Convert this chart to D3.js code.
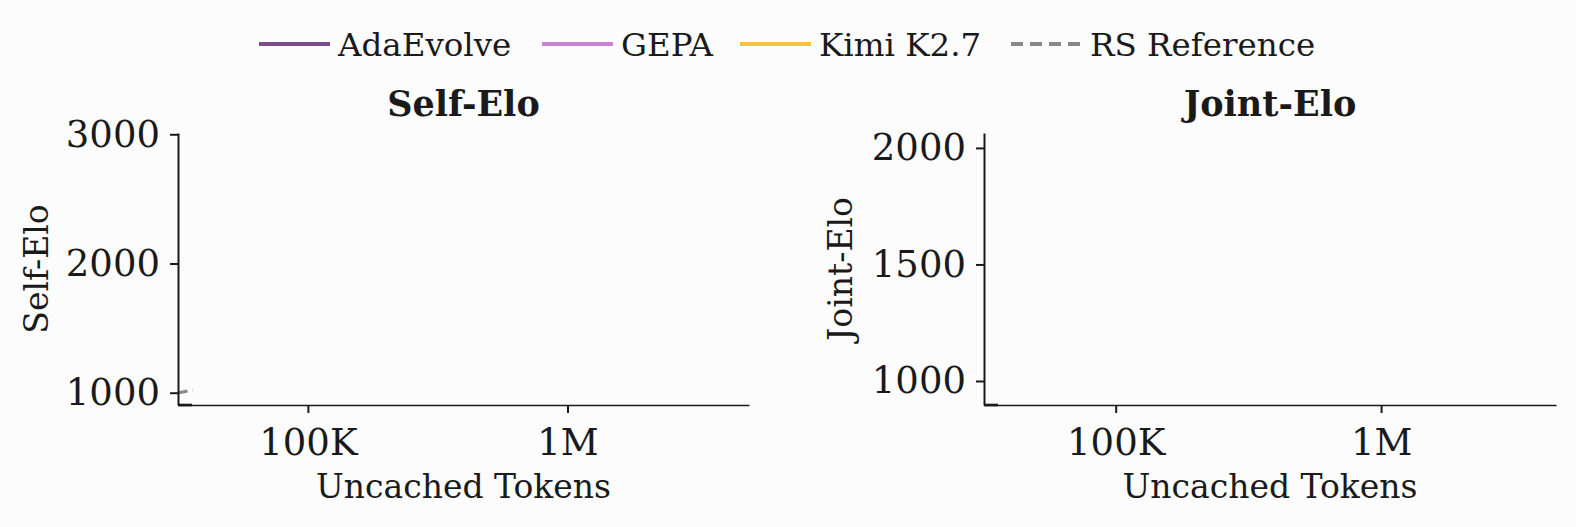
<!DOCTYPE html>
<html lang="en">
<head>
<meta charset="UTF-8">
<script src="https://d3js.org/d3.v7.min.js"></script>
<style>
  html, body { margin: 0; padding: 0; background: #fcfcfc; }
  svg { display: block; font-family: "DejaVu Serif", serif; }
</style>
<title>Self-Elo / Joint-Elo vs Uncached Tokens</title>
</head>
<body>
<div id="chart"></div>
<script>
    const width = 1576;
    const height = 527;

    // series names + colours (legend order)
    const seriesNames = ["AdaEvolve", "GEPA", "Kimi K2.7", "RS Reference"];
    const seriesColors = ["#7d4b8c", "#cc82d6", "#f4c23c", "#888888"];

    // x values: uncached tokens, y values: elo
    // only the tiny RS Reference start is inside the visible window
    const selfTokens = {
        "AdaEvolve": [],
        "GEPA": [],
        "Kimi K2.7": [],
        "RS Reference": [31800, 36000]
    };
    const selfElo = {
        "AdaEvolve": [],
        "GEPA": [],
        "Kimi K2.7": [],
        "RS Reference": [1000, 1022]
    };
    const jointTokens = { "AdaEvolve": [], "GEPA": [], "Kimi K2.7": [], "RS Reference": [] };
    const jointElo = { "AdaEvolve": [], "GEPA": [], "Kimi K2.7": [], "RS Reference": [] };

    const xTickValues = [1e5, 1e6];
    const xTickLabels = ["100K", "1M"];
    const selfYTicks = [1000, 2000, 3000];
    const jointYTicks = [1000, 1500, 2000];

    const svg = d3.select("#chart").append("svg")
        .attr("width", width)
        .attr("height", height);

    svg.append("rect").attr("width", width).attr("height", height).attr("fill", "#fcfcfc");

    const panels = [
        { title: "Self-Elo", xs: selfTokens, ys: selfElo, yTicks: selfYTicks,
          left: 178, right: 749, xDomain: [31600, 5.0e6], yDomain: [905, 3010], ylabX: 48 },
        { title: "Joint-Elo", xs: jointTokens, ys: jointElo, yTicks: jointYTicks,
          left: 984, right: 1556, xDomain: [31900, 4.56e6], yDomain: [897, 2064], ylabX: 852 }
    ];
    const plotTop = 133, plotBottom = 405;

    panels.forEach(p => {
        const x = d3.scaleLog().domain(p.xDomain).range([p.left, p.right]);
        const y = d3.scaleLinear().domain(p.yDomain).range([plotBottom, plotTop]);
        const g = svg.append("g");

        // clip so lines stay inside the axes
        const clipId = "clip-" + p.title;
        svg.append("clipPath").attr("id", clipId)
            .append("rect").attr("x", p.left).attr("y", plotTop)
            .attr("width", p.right - p.left).attr("height", plotBottom - plotTop);

        // lines
        const line = d3.line().x(d => x(d[0])).y(d => y(d[1]));
        seriesNames.forEach((name, i) => {
            const pts = p.xs[name].map((v, j) => [v, p.ys[name][j]]);
            if (!pts.length) return;
            g.append("path")
                .attr("clip-path", `url(#${clipId})`)
                .attr("d", line(pts))
                .attr("fill", "none")
                .attr("stroke", seriesColors[i])
                .attr("stroke-width", 3)
                .attr("stroke-dasharray", name === "RS Reference" ? "9,5" : null);
        });

        // y axis
        const yAxis = g.append("g")
            .attr("transform", `translate(${p.left},0)`)
            .call(d3.axisLeft(y).tickValues(p.yTicks).tickFormat(d3.format("d"))
                .tickSize(8).tickPadding(10).tickSizeOuter(0));
        yAxis.select(".domain").attr("stroke", "#1a1a1a").attr("stroke-width", 2);
        yAxis.selectAll(".tick line").attr("stroke", "#1a1a1a").attr("stroke-width", 2);
        yAxis.selectAll("text").attr("font-family", "DejaVu Serif").attr("font-size", 37).attr("fill", "#1a1a1a");

        // x axis
        const xAxis = g.append("g")
            .attr("transform", `translate(0,${plotBottom})`)
            .call(d3.axisBottom(x).tickValues(xTickValues)
                .tickFormat((d, i) => xTickLabels[i]).tickSize(8).tickPadding(16).tickSizeOuter(0));
        xAxis.select(".domain").attr("stroke", "#1a1a1a").attr("stroke-width", 1.6);
        xAxis.selectAll(".tick line").attr("stroke", "#1a1a1a").attr("stroke-width", 2);
        xAxis.selectAll("text").attr("font-family", "DejaVu Serif").attr("font-size", 37).attr("fill", "#1a1a1a");

        // little thick corner stub
        g.append("line")
            .attr("x1", p.left).attr("x2", p.left + 14)
            .attr("y1", plotBottom).attr("y2", plotBottom)
            .attr("stroke", "#1a1a1a").attr("stroke-width", 2.6);

        // title
        g.append("text")
            .attr("x", (p.left + p.right) / 2).attr("y", 116)
            .attr("text-anchor", "middle")
            .attr("font-size", 35).attr("font-weight", "bold").attr("fill", "#1a1a1a")
            .text(p.title);

        // axis labels
        g.append("text")
            .attr("x", (p.left + p.right) / 2).attr("y", 498)
            .attr("text-anchor", "middle")
            .attr("font-size", 33).attr("fill", "#1a1a1a")
            .text("Uncached Tokens");
        g.append("text")
            .attr("transform", `translate(${p.ylabX},${(plotTop + plotBottom) / 2}) rotate(-90)`)
            .attr("text-anchor", "middle")
            .attr("font-size", 33).attr("fill", "#1a1a1a")
            .text(p.title);
    });

    // legend
    const legendX = [259, 542, 740, 1011];
    const legend = svg.append("g");
    seriesNames.forEach((name, i) => {
        const lg = legend.append("g").attr("transform", `translate(${legendX[i]},44)`);
        lg.append("line")
            .attr("x1", 0).attr("x2", 71).attr("y1", 0).attr("y2", 0)
            .attr("stroke", seriesColors[i]).attr("stroke-width", 4)
            .attr("stroke-dasharray", name === "RS Reference" ? "12,7" : null);
        lg.append("text")
            .attr("x", 79).attr("y", 12)
            .attr("font-size", 32.5).attr("fill", "#1a1a1a")
            .text(name);
    });
</script>
</body>
</html>
